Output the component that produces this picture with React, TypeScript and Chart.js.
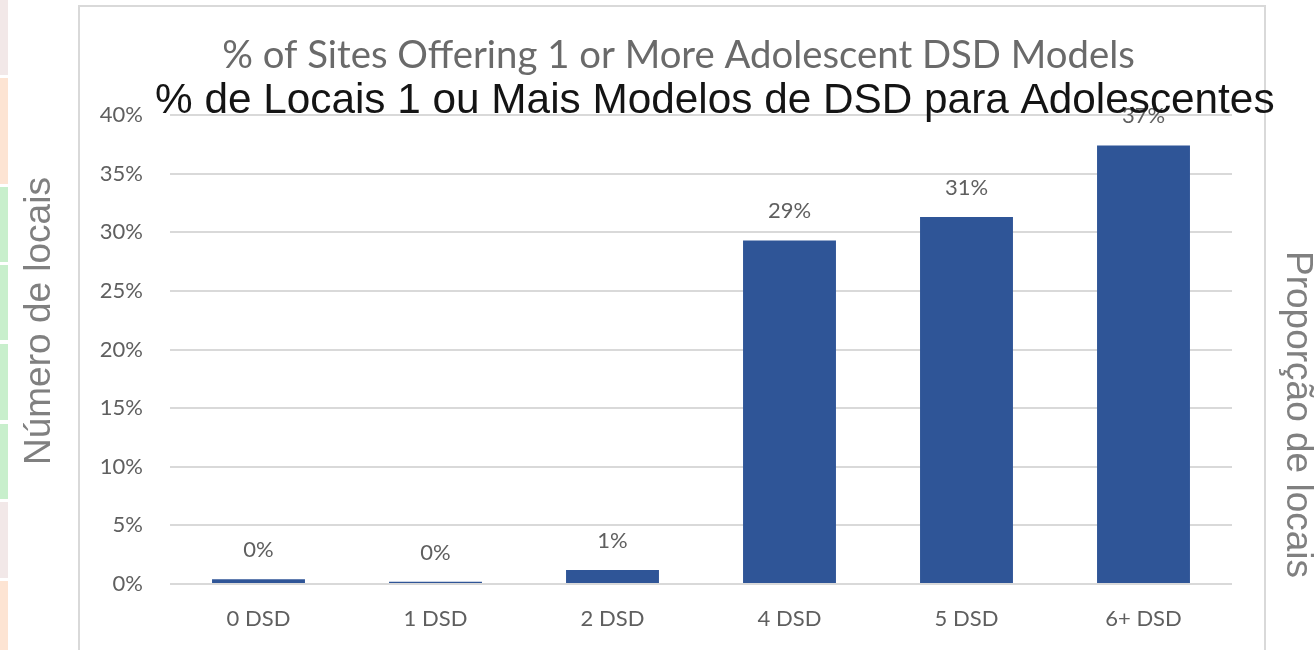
import React, { useEffect, useRef } from "react";
import { Chart, registerables } from "chart.js";

Chart.register(...registerables);

const categories = ["0 DSD", "1 DSD", "2 DSD", "4 DSD", "5 DSD", "6+ DSD"];
const values = [0.4, 0.2, 1.2, 29.3, 31.3, 37.4];
const yTickValues = [0, 5, 10, 15, 20, 25, 30, 35, 40];
const englishTitle = "% of Sites Offering 1 or More Adolescent DSD Models";
const portugueseTitle = "% de Locais 1 ou Mais Modelos de DSD para Adolescentes";
const leftSideLabel = "Número de locais";
const rightSideLabel = "Proporção de locais";

const W = 1316;
const H = 650;
const GRAY_TEXT = "#5f5f5f";
const LABEL_FONT = "Lato, 'Open Sans', sans-serif";

function fitSize(ctx: CanvasRenderingContext2D, text: string, family: string, target: number) {
  ctx.font = `100px ${family}`;
  const w = ctx.measureText(text).width;
  return (100 * target) / w;
}

const backdropPlugin = {
  id: "backdrop",
  beforeDraw(chart: any) {
    const ctx: CanvasRenderingContext2D = chart.ctx;
    ctx.save();
    ctx.fillStyle = "#ffffff";
    ctx.fillRect(0, 0, chart.width, chart.height);
    const strips: [number, number, string][] = [
      [0, 75, "#f2e8e8"],
      [78, 184, "#fde4d3"],
      [187, 262, "#c8efcc"],
      [265, 340, "#c8efcc"],
      [344, 420, "#c8efcc"],
      [424, 499, "#c8efcc"],
      [502, 578, "#f2e8e8"],
      [581, 650, "#fde4d3"],
    ];
    strips.forEach(([a, b, c]) => {
      ctx.fillStyle = c;
      ctx.fillRect(0, a, 8, b - a);
    });
    ctx.strokeStyle = "#d9d9d9";
    ctx.lineWidth = 2;
    ctx.beginPath();
    ctx.moveTo(79, H);
    ctx.lineTo(79, 6);
    ctx.lineTo(1265, 6);
    ctx.lineTo(1265, H);
    ctx.stroke();

    // English (gray) title
    const fam1 = "Lato, sans-serif";
    const s1 = fitSize(ctx, englishTitle, fam1, 913);
    ctx.font = `${s1}px ${fam1}`;
    ctx.fillStyle = "#6a6a6a";
    ctx.textAlign = "center";
    ctx.textBaseline = "alphabetic";
    ctx.fillText(englishTitle, 678.5, 68);

    // side labels
    ctx.font = `37px 'Liberation Sans', Arial, sans-serif`;
    ctx.fillStyle = "#808080";
    ctx.textAlign = "left";
    ctx.save();
    ctx.translate(50, 465);
    ctx.rotate(-Math.PI / 2);
    ctx.fillText(leftSideLabel, 0, 0);
    ctx.restore();
    ctx.save();
    ctx.translate(1287, 251);
    ctx.rotate(Math.PI / 2);
    ctx.fillText(rightSideLabel, 0, 0);
    ctx.restore();
    ctx.restore();
  },
  afterDatasetsDraw(chart: any) {
    const ctx: CanvasRenderingContext2D = chart.ctx;
    const meta = chart.getDatasetMeta(0);
    ctx.save();
    ctx.font = `22px ${LABEL_FONT}`;
    ctx.fillStyle = GRAY_TEXT;
    ctx.textAlign = "center";
    ctx.textBaseline = "alphabetic";
    meta.data.forEach((bar: any, i: number) => {
      ctx.fillText(`${Math.round(values[i])}%`, bar.x, bar.y - 22);
    });
    ctx.restore();
  },
  afterDraw(chart: any) {
    const ctx: CanvasRenderingContext2D = chart.ctx;
    ctx.save();
    const fam = "'Liberation Sans', Arial, sans-serif";
    const s = fitSize(ctx, portugueseTitle, fam, 1120);
    ctx.font = `${s}px ${fam}`;
    ctx.fillStyle = "#141414";
    ctx.textAlign = "left";
    ctx.textBaseline = "alphabetic";
    ctx.fillText(portugueseTitle, 155, 113);
    ctx.restore();
  },
};

export default function App() {
  const ref = useRef<HTMLCanvasElement>(null);
  useEffect(() => {
    document.body.style.margin = "0";
    if (!ref.current) return;
    const chart = new Chart(ref.current, {
      type: "bar",
      data: {
        labels: categories,
        datasets: [
          {
            data: values,
            backgroundColor: "#2f5597",
            borderWidth: 0,
            categoryPercentage: 1,
            barPercentage: 0.525,
          },
        ],
      },
      options: {
        responsive: false,
        animation: false,
        layout: { padding: { left: 0, right: W - 1232, top: 115, bottom: 0 } },
        plugins: {
          legend: { display: false },
          tooltip: { enabled: false },
          title: { display: false },
        },
        scales: {
          x: {
            grid: { display: false },
            border: { display: false },
            ticks: {
              color: GRAY_TEXT,
              font: { family: LABEL_FONT, size: 22 },
              padding: 14,
              maxRotation: 0,
            },
            afterFit(scale: any) {
              scale.height = H - 584;
            },
          },
          y: {
            min: 0,
            max: 40,
            afterBuildTicks(scale: any) {
              scale.ticks = yTickValues.map((v) => ({ value: v }));
            },
            grid: { color: "#d9d9d9", lineWidth: 2, drawTicks: false },
            border: { display: false },
            ticks: {
              color: GRAY_TEXT,
              font: { family: LABEL_FONT, size: 22 },
              padding: 27,
              callback: (v: any) => `${v}%`,
            },
            afterFit(scale: any) {
              scale.width = 170;
            },
          },
        },
      },
      plugins: [backdropPlugin],
    });
    return () => chart.destroy();
  }, []);
  return <canvas ref={ref} width={W} height={H} style={{ display: "block" }} />;
}
